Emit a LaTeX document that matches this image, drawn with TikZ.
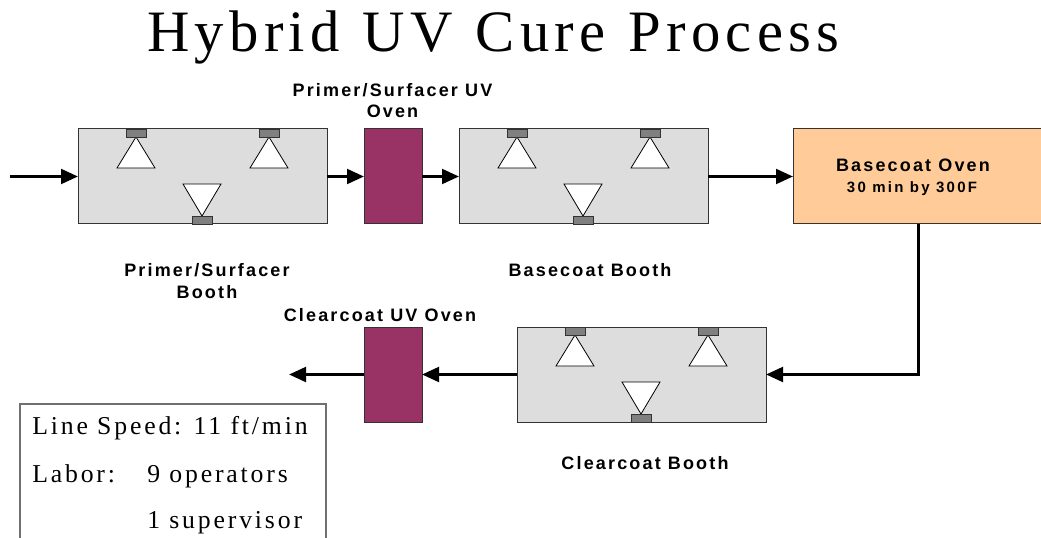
\documentclass[tikz,border=0pt]{standalone}
\usepackage{fontspec}
\usetikzlibrary{arrows.meta,calc}
\newfontfamily\titlefont[LetterSpace=9,WordSpace=1.15]{Liberation Serif}
\newfontfamily\boxfont[LetterSpace=11]{Liberation Serif}
\newfontfamily\lblfont[LetterSpace=12]{Liberation Sans}
\newfontfamily\smlfont[LetterSpace=15]{Liberation Sans}
\definecolor{boothgray}{HTML}{DDDDDD}
\definecolor{nozzlegray}{HTML}{808080}
\definecolor{uvpurple}{HTML}{993366}
\definecolor{ovenorange}{HTML}{FFCC99}
\definecolor{edgecol}{HTML}{333333}
\definecolor{boxedge}{HTML}{707070}
\begin{document}
\begin{tikzpicture}[x=0.75pt,y=-0.75pt,
  booth/.style={draw=edgecol,fill=boothgray,line width=0.75pt,minimum width=186.75pt,minimum height=71.25pt,inner sep=0pt,outer sep=0pt},
  uvoven/.style={draw=edgecol,fill=uvpurple,line width=0.75pt,minimum width=43.5pt,minimum height=71.25pt,inner sep=0pt,outer sep=0pt},
  bcoven/.style={draw=edgecol,fill=ovenorange,line width=0.75pt,minimum width=187.5pt,minimum height=71.25pt,inner sep=0pt,outer sep=0pt},
  infobox/.style={draw=boxedge,line width=0.9pt,minimum width=229.5pt,minimum height=105.75pt,inner sep=0pt},
  nozzle/.style={draw=edgecol,fill=nozzlegray,line width=0.6pt},
  spray/.style={draw=black,fill=white,line width=0.6pt},
  flow/.style={line width=2.25pt,-{Triangle[length=12.75pt,width=11pt]}},
  lbl/.style={font=\lblfont\bfseries\fontsize{13.5}{16}\selectfont,anchor=base,inner sep=0pt},
  sml/.style={font=\smlfont\bfseries\fontsize{11.25}{13}\selectfont,anchor=base,inner sep=0pt},
  boxtxt/.style={font=\boxfont\fontsize{19.3}{23}\selectfont,anchor=base west,inner sep=0pt},
  titletxt/.style={font=\titlefont\fontsize{44}{50}\selectfont,anchor=base west,inner sep=0pt}
]
\useasboundingbox (0,0) rectangle (1041,538);
\clip (0,0) rectangle (1041,538);

% title
\node[titletxt] (title) at (147,52) {Hybrid UV Cure Process};

% process units
\node[booth] (b1) at (202.5,176.5) {};
\node[uvoven] (uv1) at (393,176.5) {};
\node[booth] (b2) at (583.5,176.5) {};
\node[bcoven] (bc) at (918,176.5) {};
\node[booth] (b3) at (641.5,374.5) {};
\node[uvoven] (uv2) at (393,374.5) {};

% spray nozzles
\foreach \b in {b1,b2,b3}{
  \foreach \o in {58,191}{
    \filldraw[spray] ($(\b.north west)+(\o-19,39)$) -- ($(\b.north west)+(\o,8)$) -- ($(\b.north west)+(\o+19,39)$) -- cycle;
    \filldraw[nozzle] ($(\b.north west)+(\o-10,0)$) rectangle ($(\b.north west)+(\o+10,8)$);
  }
  \filldraw[spray] ($(\b.south west)+(105,-40)$) -- ($(\b.south west)+(124,-8)$) -- ($(\b.south west)+(143,-40)$) -- cycle;
  \filldraw[nozzle] ($(\b.south west)+(114,-8)$) rectangle ($(\b.south west)+(134,0)$);
}

% connectors
\coordinate (in) at (10,176.5);
\coordinate (out) at (289,374.5);
\draw[flow] (in) -- (b1.west);
\draw[flow] (b1.east) -- (uv1.west);
\draw[flow] (uv1.east) -- (b2.west);
\draw[flow] (b2.east) -- (bc.west);
\draw[flow] (bc.south) |- (b3.east);
\draw[flow] (b3.west) -- (uv2.east);
\draw[flow] (uv2.west) -- (out);

% labels
\node[lbl] (lpsuv1) at (392.5,97) {Primer/Surfacer UV};
\node[lbl] (lpsuv2) at (392.5,118) {Oven};
\node[lbl] (lpsb1) at (207,276) {Primer/Surfacer};
\node[lbl] (lpsb2) at (207,298) {Booth};
\node[lbl] (lbb) at (590,276) {Basecoat Booth};
\node[lbl] (lcuv) at (380,321) {Clearcoat UV Oven};
\node[lbl] (lcb) at (645,469) {Clearcoat Booth};
\node[lbl] (lbo) at (913,172) {Basecoat Oven};
\node[sml] (lbo2) at (912,193) {30 min by 300F};

% info box
\node[infobox] (info) at (173,474.5) {};
\node[boxtxt] (t1) at (32,434) {Line Speed: 11 ft/min};
\node[boxtxt] (t2) at (32,482) {Labor:};
\node[boxtxt] (t3) at (147,482) {9 operators};
\node[boxtxt] (t4) at (147,528) {1 supervisor};
\end{tikzpicture}
\end{document}
